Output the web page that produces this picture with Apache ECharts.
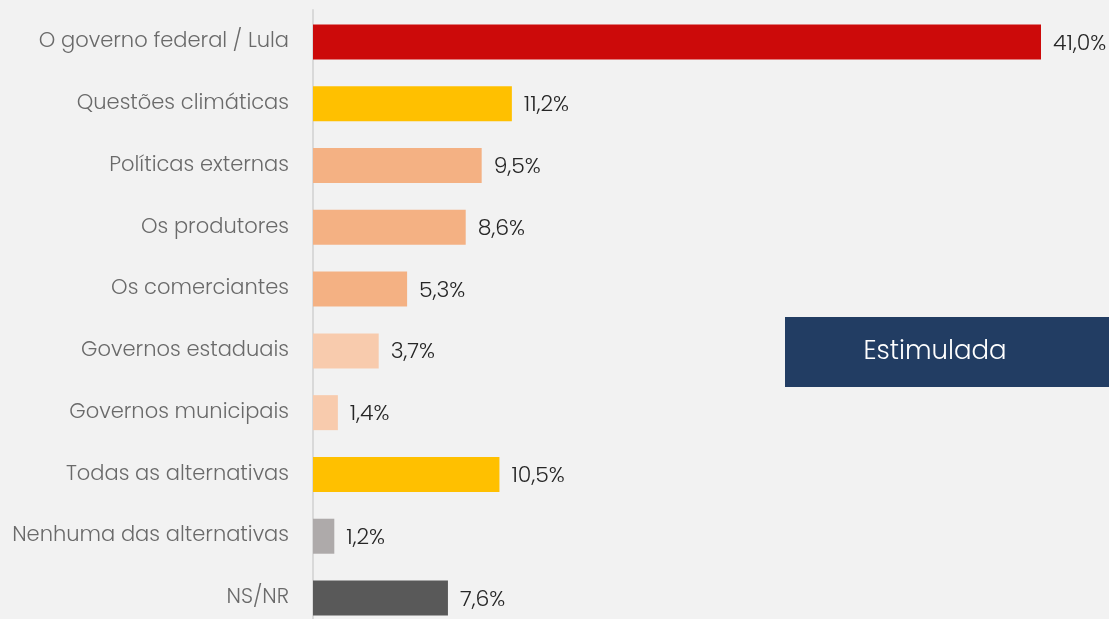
<!DOCTYPE html>
<html>
<head>
<meta charset="utf-8">
<script src="https://cdn.jsdelivr.net/npm/echarts@6/dist/echarts.min.js"></script>
<style>
html,body{margin:0;padding:0;background:#F2F2F2;}
#c{width:1109px;height:619px;}
</style>
</head>
<body>
<div id="c"></div>
<script>
const categories = [
  "O governo federal / Lula",
  "Questões climáticas",
  "Políticas externas",
  "Os produtores",
  "Os comerciantes",
  "Governos estaduais",
  "Governos municipais",
  "Todas as alternativas",
  "Nenhuma das alternativas",
  "NS/NR"
];
const values = [41.0, 11.2, 9.5, 8.6, 5.3, 3.7, 1.4, 10.5, 1.2, 7.6];
const barColors = ["#CC0A0A", "#FFC000", "#F4B183", "#F4B183", "#F4B183", "#F8CBAD", "#F8CBAD", "#FFC000", "#AEAAAA", "#595959"];
const boxText = "Estimulada";

const FONT = "Poppins, Lato, 'Open Sans', sans-serif";
const chart = echarts.init(document.getElementById('c'), null, {renderer: 'canvas'});
chart.setOption({
  backgroundColor: '#F2F2F2',
  animation: false,
  grid: [
    {left: 313, top: 42, width: 728, height: 556, containLabel: false},
    {left: 313, top: 10, width: 728, height: 609, containLabel: false}
  ],
  xAxis: [
    {type: 'value', min: 0, max: 41, show: false, gridIndex: 0},
    {type: 'value', min: 0, max: 41, show: false, gridIndex: 1}
  ],
  yAxis: [{
    type: 'category',
    gridIndex: 0,
    data: categories,
    inverse: true,
    boundaryGap: false,
    axisLine: {show: false},
    axisTick: {show: false},
    axisLabel: {
      color: '#6A6A6A', fontSize: 21, fontFamily: FONT, fontWeight: 300, margin: 24
    },
    splitLine: {show: false}
  }, {
    type: 'value',
    gridIndex: 1,
    axisLine: {show: true, lineStyle: {color: '#D9D9D9', width: 2}},
    axisTick: {show: false},
    axisLabel: {show: false},
    splitLine: {show: false}
  }],
  series: [{
    type: 'bar',
    barWidth: 35,
    clip: false,
    xAxisIndex: 0, yAxisIndex: 0,
    data: values.map((v, i) => ({value: v, itemStyle: {color: barColors[i]}})),
    label: {
      show: true, position: 'right', distance: 12,
      color: '#262626', fontSize: 22, fontFamily: FONT, fontWeight: 300,
      offset: [0, 2],
      formatter: p => p.value.toFixed(1).replace('.', ',') + '%'
    }
  }],
  graphic: [{
    type: 'group',
    left: 785, top: 317,
    children: [
      {type: 'rect', shape: {x: 0, y: 0, width: 324, height: 70}, style: {fill: '#223D63'}},
      {type: 'text', x: 150, y: 35, style: {text: boxText, fill: '#FFFFFF', fontSize: 26, fontFamily: FONT, fontWeight: 300, align: 'center', verticalAlign: 'middle'}}
    ]
  }]
});
</script>
</body>
</html>
